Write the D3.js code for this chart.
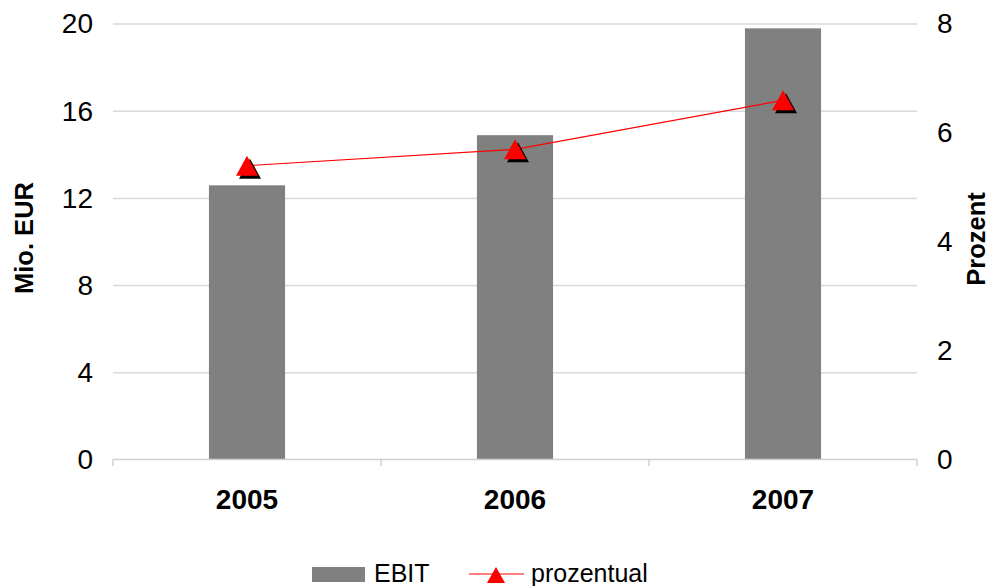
<!DOCTYPE html>
<html>
<head>
<meta charset="utf-8">
<script src="https://cdn.jsdelivr.net/npm/d3@7"></script>
<style>
  body { margin: 0; background: #fff; }
  svg { display: block; font-family: "Liberation Sans", Arial, sans-serif; }
</style>
</head>
<body>
<svg id="chart" width="989" height="586"></svg>
<script>
// Data
const years = ["2005", "2006", "2007"];
const ebit = [12.6, 14.9, 19.8];        // Mio. EUR
const prozentual = [5.4, 5.7, 6.6];     // Prozent
const leftTicks = [0, 4, 8, 12, 16, 20];
const rightTicks = [0, 2, 4, 6, 8];

const svg = d3.select("#chart");
const m = { left: 113, right: 917, top: 24, bottom: 460 };
const FONT = "Liberation Sans, Arial, sans-serif";

const x = d3.scaleBand().domain(years).range([m.left, m.right]).paddingInner(0.716).paddingOuter(0.358);
const yL = d3.scaleLinear().domain([0, 20]).range([m.bottom, m.top]);
const yR = d3.scaleLinear().domain([0, 8]).range([m.bottom, m.top]);

// Horizontal gridlines
svg.append("g").selectAll("line").data(leftTicks.filter(d => d > 0)).join("line")
  .attr("x1", m.left).attr("x2", m.right)
  .attr("y1", d => yL(d)).attr("y2", d => yL(d))
  .attr("stroke", "#d9d9d9").attr("stroke-width", 1.5);

// Bars
svg.append("g").selectAll("rect").data(years).join("rect")
  .attr("x", d => x(d)).attr("width", x.bandwidth())
  .attr("y", (d, i) => yL(ebit[i])).attr("height", (d, i) => yL(0) - yL(ebit[i]))
  .attr("fill", "#808080");

// Category axis
const step = (m.right - m.left) / years.length;
const xAxis = svg.append("g");
xAxis.append("line").attr("x1", m.left).attr("x2", m.right)
  .attr("y1", m.bottom - 0.5).attr("y2", m.bottom - 0.5)
  .attr("stroke", "#d0d0d0").attr("stroke-width", 1.5);
xAxis.selectAll("line.tick").data(d3.range(years.length + 1)).join("line").attr("class", "tick")
  .attr("x1", i => m.left + i * step).attr("x2", i => m.left + i * step)
  .attr("y1", m.bottom - 0.5).attr("y2", m.bottom + 6)
  .attr("stroke", "#d0d0d0").attr("stroke-width", 1.5);
xAxis.selectAll("text").data(years).join("text")
  .attr("x", d => x(d) + x.bandwidth() / 2).attr("y", 509)
  .attr("text-anchor", "middle").attr("font-size", 28).attr("font-weight", "bold")
  .attr("fill", "#000").text(d => d);

// Left axis
svg.append("g").attr("transform", `translate(${m.left},0)`)
  .call(d3.axisLeft(yL).tickValues(leftTicks).tickSize(0).tickPadding(20))
  .call(g => g.select(".domain").remove())
  .call(g => g.selectAll("text").attr("font-size", 28).attr("fill", "#000").attr("font-family", FONT));

// Right axis
svg.append("g").attr("transform", `translate(${m.right},0)`)
  .call(d3.axisRight(yR).tickValues(rightTicks).tickSize(0).tickPadding(20))
  .call(g => g.select(".domain").remove())
  .call(g => g.selectAll("text").attr("font-size", 28).attr("fill", "#000").attr("font-family", FONT));

// Axis titles
svg.append("text").attr("transform", "translate(33,238) rotate(-90)")
  .attr("text-anchor", "middle").attr("font-size", 25.5).attr("font-weight", "bold").text("Mio. EUR");
svg.append("text").attr("transform", "translate(985,239) rotate(-90)")
  .attr("text-anchor", "middle").attr("font-size", 25.5).attr("font-weight", "bold").text("Prozent");

// Percentage line with shadowed triangle markers
const cx = d => x(d) + x.bandwidth() / 2;
const line = d3.line().x(d => cx(d[0])).y(d => yR(d[1]));
const pts = years.map((d, i) => [d, prozentual[i]]);
svg.append("path").datum(pts).attr("d", line)
  .attr("fill", "none").attr("stroke", "#ff0000").attr("stroke-width", 1.2);

const triPath = (w, h) => `M0,${-h / 2}L${w / 2},${h / 2}L${-w / 2},${h / 2}Z`;
svg.append("g").selectAll("path").data(pts).join("path")
  .attr("d", triPath(22, 20)).attr("transform", d => `translate(${cx(d[0]) + 3},${yR(d[1]) + 3})`)
  .attr("fill", "#000");
svg.append("g").selectAll("path").data(pts).join("path")
  .attr("d", triPath(22, 20)).attr("transform", d => `translate(${cx(d[0])},${yR(d[1])})`)
  .attr("fill", "#ff0000");

// Legend
const lg = svg.append("g");
lg.append("rect").attr("x", 312).attr("y", 567).attr("width", 53).attr("height", 15).attr("fill", "#808080");
lg.append("text").attr("x", 374).attr("y", 582).attr("font-size", 25).text("EBIT");
lg.append("line").attr("x1", 469).attr("x2", 524).attr("y1", 574).attr("y2", 574)
  .attr("stroke", "#ff0000").attr("stroke-width", 1.2);
lg.append("path").attr("d", triPath(18, 16))
  .attr("transform", "translate(496,575)").attr("fill", "#ff0000");
lg.append("text").attr("x", 531).attr("y", 582).attr("font-size", 25).text("prozentual");
</script>
</body>
</html>
